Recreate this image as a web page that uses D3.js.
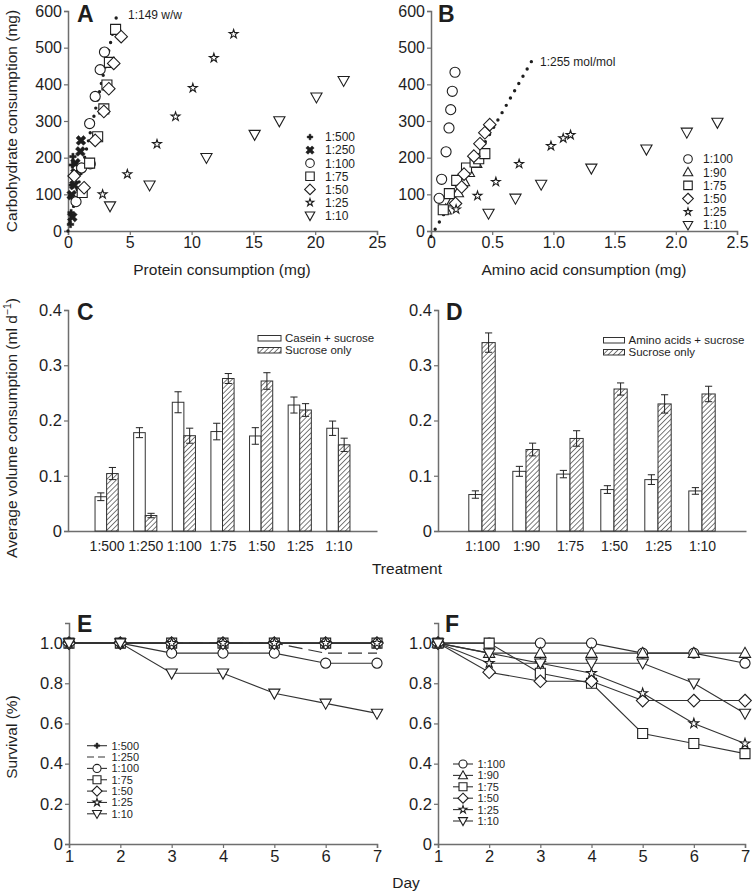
<!DOCTYPE html>
<html><head><meta charset="utf-8">
<script src="https://cdn.jsdelivr.net/npm/d3@7"></script>
<style>
body{margin:0;background:#fff}
svg{display:block}
text{font-family:"Liberation Sans",Arial,Helvetica,sans-serif;fill:#1e1e1e}
</style>
</head><body>
<svg id="fig" width="755" height="894"></svg>
<script>
// ---------- Panel A: carbohydrate vs protein consumption (mg) ----------
const A_500 = [[0.2,18],[0.25,50],[0.3,95],[0.35,125],[0.3,150],[0.35,180],[0.4,203]];
const A_250 = [[0.35,38],[0.3,98],[0.5,125],[0.6,158],[0.6,185],[1.0,217],[1.05,247]];
const A_100 = [[0.65,80],[1.1,172],[1.8,183],[1.75,293],[2.2,367],[2.6,440],[2.95,488]];
const A_75  = [[1.15,105],[1.75,185],[2.4,257],[2.9,333],[3.15,398],[3.35,460],[3.85,550]];
const A_50  = [[1.3,118],[0.5,150],[2.2,247],[2.9,326],[3.3,388],[3.7,457],[4.3,530]];
const A_25  = [[2.8,100],[4.8,155],[7.2,237],[8.7,312],[10.1,390],[11.8,472],[13.4,537]];
const A_10  = [[3.4,68],[6.6,125],[11.2,200],[15.1,263],[17.1,300],[20.1,365],[22.3,410]];
const A_line = [[0,0],[3.95,589]];
const A_labels = ["1:500","1:250","1:100","1:75","1:50","1:25","1:10"];
const A_xticks = [0,5,10,15,20,25];
const AB_yticks = [0,100,200,300,400,500,600];

// ---------- Panel B: carbohydrate vs amino acid consumption (mg) ----------
const B_100 = [[0.066,89],[0.087,141],[0.123,216],[0.147,281],[0.161,331],[0.174,381],[0.196,433]];
const B_90  = [[0.12,58],[0.17,80],[0.22,105],[0.27,135],[0.31,160],[0.37,185],[0.42,210]];
const B_75  = [[0.1,58],[0.15,102],[0.21,138],[0.29,172],[0.36,188],[0.39,197],[0.44,211]];
const B_50  = [[0.2,75],[0.25,120],[0.27,155],[0.35,204],[0.4,238],[0.44,268],[0.48,290]];
const B_25  = [[0.205,59],[0.38,96],[0.53,134],[0.72,183],[0.98,232],[1.08,253],[1.14,262]];
const B_10  = [[0.47,48],[0.69,89],[0.9,127],[1.31,171],[1.76,223],[2.09,269],[2.34,296]];
const B_line = [[0,-15],[0.82,462]];
const B_labels = ["1:100","1:90","1:75","1:50","1:25","1:10"];
const B_xticks = [0,0.5,1.0,1.5,2.0,2.5];

// ---------- Panel C: volume consumption, casein ----------
const C_cats = ["1:500","1:250","1:100","1:75","1:50","1:25","1:10"];
const C_mix = [0.062,0.178,0.233,0.180,0.172,0.228,0.186];
const C_mixErr = [0.007,0.009,0.019,0.015,0.015,0.0145,0.013];
const C_suc = [0.104,0.028,0.1725,0.276,0.2715,0.219,0.156];
const C_sucErr = [0.011,0.004,0.0136,0.009,0.015,0.0115,0.012];

// ---------- Panel D: volume consumption, amino acids ----------
const D_cats = ["1:100","1:90","1:75","1:50","1:25","1:10"];
const D_mix = [0.066,0.108,0.103,0.075,0.093,0.0725];
const D_mixErr = [0.0067,0.009,0.0067,0.007,0.0088,0.006];
const D_suc = [0.341,0.1475,0.1675,0.257,0.230,0.248];
const D_sucErr = [0.0175,0.0115,0.014,0.011,0.0166,0.014];
const CD_yticks = [0,0.1,0.2,0.3,0.4];

// ---------- Panel E / F: survival ----------
const days = [1,2,3,4,5,6,7];
const E_500 = [1,1,1,1,1,1,1];
const E_250 = [1,1,1,1,1,0.95,0.95];
const E_100 = [1,1,0.95,0.95,0.95,0.9,0.9];
const E_75  = [1,1,1,1,1,1,1];
const E_50  = [1,1,1,1,1,1,1];
const E_25  = [1,1,1,1,1,1,1];
const E_10  = [1,1,0.85,0.85,0.75,0.7,0.65];
const F_100 = [1,1,1,1,0.95,0.95,0.9];
const F_90  = [1,0.95,0.95,0.95,0.95,0.95,0.95];
const F_75  = [1,1,0.85,0.8,0.55,0.5,0.45];
const F_50  = [1,0.855,0.81,0.81,0.714,0.714,0.714];
const F_25  = [1,0.9,0.9,0.85,0.75,0.6,0.5];
const F_10  = [1,0.95,0.9,0.9,0.9,0.8,0.65];
const EF_yticks = [0,0.2,0.4,0.6,0.8,1.0];

// ================= drawing =================
const svg = d3.select("#fig");
const FONT = '"Liberation Sans",Arial,Helvetica,sans-serif';
const AXC = "#6e6e6e", INK = "#1e1e1e";

// hatch pattern
const defs = svg.append("defs");
const pat = defs.append("pattern").attr("id","hatch").attr("patternUnits","userSpaceOnUse")
  .attr("width",3.6).attr("height",3.6).attr("patternTransform","rotate(45)");
pat.append("rect").attr("width",3.6).attr("height",3.6).attr("fill","#fff");
pat.append("line").attr("x1",0).attr("y1",0).attr("x2",0).attr("y2",3.6).attr("stroke","#333").attr("stroke-width",1.3);

function symPath(t, k){
  k = k || 1;
  switch(t){
    case "circle": return d3.symbol(d3.symbolCircle, 80*k*k)();
    case "square": { const h=5*k; return `M${-h},${-h}H${h}V${h}H${-h}Z`; }
    case "diamond": { const h=6.3*k; return `M0,${-h}L${h},0L0,${h}L${-h},0Z`; }
    case "star": return d3.symbol(d3.symbolStar, 30*k*k)();
    case "tridown": { const w=5.6*k, h=4.2*k; return `M${-w},${-h}L${w},${-h}L0,${h+1.6*k}Z`; }
    case "triup": { const w=5.6*k, h=4.2*k; return `M${-w},${h}L${w},${h}L0,${-h-1.6*k}Z`; }
    case "plus": return d3.symbol(d3.symbolCross, 24*k*k)();
    case "x": return d3.symbol(d3.symbolCross, 60*k*k)();
  }
}
function drawSym(g, t, x, y, k){
  const p = g.append("path").attr("d", symPath(t,k)).attr("stroke", INK);
  if(t==="plus"||t==="x"){ p.attr("fill",INK).attr("stroke-width",0.5); }
  else { p.attr("fill","#fff").attr("stroke-width",1.1); }
  p.attr("transform", `translate(${x},${y})` + (t==="x" ? " rotate(45)" : ""));
  return p;
}
function styleAxis(g, size){
  g.attr("font-family", FONT).attr("font-size", size||16);
  g.select(".domain").attr("stroke", AXC).attr("stroke-width", 1.5);
  g.selectAll(".tick line").attr("stroke", AXC).attr("stroke-width", 1.2);
  g.selectAll(".tick text").attr("fill", INK);
}
const fmt1 = d => d===0 ? "0" : d.toFixed(1);

function panelLetter(t, x, y){
  svg.append("text").attr("x",x).attr("y",y).attr("font-size",23).attr("font-weight","bold").text(t);
}
function txt(t, x, y, size, anchor){
  return svg.append("text").attr("x",x).attr("y",y).attr("font-size",size).attr("text-anchor",anchor||"start").text(t);
}
function vtitle(t, x, y){
  return svg.append("text").attr("transform",`translate(${x},${y}) rotate(-90)`).attr("text-anchor","middle").attr("font-size",15.5).text(t);
}

// ---------- scatter panels ----------
function scatterPanel(opt){
  const x = d3.scaleLinear().domain(opt.xdom).range(opt.xr);
  const y = d3.scaleLinear().domain([0,600]).range([231,11]);
  const g = svg.append("g");
  g.append("g").attr("transform",`translate(0,231)`).call(d3.axisBottom(x).tickValues(opt.xticks).tickFormat(opt.xfmt).tickSize(4).tickPadding(2)).call(a=>styleAxis(a,16));
  g.append("g").attr("transform",`translate(${opt.xr[0]},0)`).call(d3.axisLeft(y).tickValues(AB_yticks).tickSize(4).tickPadding(2)).call(a=>styleAxis(a,16));
  // dotted ratio line
  g.append("path").datum(opt.line).attr("d", d3.line().x(d=>x(d[0])).y(d=>y(d[1])))
    .attr("fill","none").attr("stroke",INK).attr("stroke-width",3.4).attr("stroke-linecap","round").attr("stroke-dasharray","0,8.4");
  opt.series.forEach(s=>{
    s.data.forEach(d=>drawSym(g, s.sym, x(d[0]), y(d[1]), s.k||1));
  });
  // legend
  opt.series.forEach((s,i)=>{
    const yy = opt.legY + i*opt.legDy;
    drawSym(g, s.sym, opt.legX, yy, 0.85*(s.k||1));
    g.append("text").attr("x",opt.legX+15).attr("y",yy+4.3).attr("font-size",12).text(s.label);
  });
}
scatterPanel({
  xdom:[0,25], xr:[68,377], xticks:A_xticks, xfmt:d3.format("d"), line:A_line,
  legX:310, legY:137, legDy:13.1,
  series:[
    {label:A_labels[0], sym:"plus", data:A_500},
    {label:A_labels[1], sym:"x", data:A_250},
    {label:A_labels[2], sym:"circle", data:A_100},
    {label:A_labels[3], sym:"square", data:A_75},
    {label:A_labels[4], sym:"diamond", data:A_50},
    {label:A_labels[5], sym:"star", data:A_25, k:0.9},
    {label:A_labels[6], sym:"tridown", data:A_10}
  ]
});
scatterPanel({
  xdom:[0,2.5], xr:[431,737], xticks:B_xticks, xfmt:fmt1, line:B_line,
  legX:688, legY:159, legDy:13.2,
  series:[
    {label:B_labels[0], sym:"circle", data:B_100},
    {label:B_labels[1], sym:"triup", data:B_90},
    {label:B_labels[2], sym:"square", data:B_75},
    {label:B_labels[3], sym:"diamond", data:B_50},
    {label:B_labels[4], sym:"star", data:B_25, k:0.9},
    {label:B_labels[5], sym:"tridown", data:B_10}
  ]
});
panelLetter("A", 77, 22);
panelLetter("B", 438, 22);
txt("1:149 w/w", 128, 19, 12);
txt("1:255 mol/mol", 540, 66, 12);
vtitle("Carbohydrate consumption (mg)", 17, 121);
txt("Protein consumption (mg)", 222, 275, 15.5, "middle");
txt("Amino acid consumption (mg)", 584, 275, 15.5, "middle");

// ---------- bar panels ----------
function barPanel(opt){
  const x = d3.scalePoint().domain(opt.cats).range(opt.xr).padding(1);
  const y = d3.scaleLinear().domain([0,0.4]).range([531,310]);
  const bw = x.step()*0.3;
  const g = svg.append("g");
  const xa = g.append("g").attr("transform","translate(0,531)").call(d3.axisBottom(x).tickSize(0).tickPadding(10));
  styleAxis(xa, 14);
  g.append("g").attr("transform",`translate(${opt.xr[0]},0)`).call(d3.axisLeft(y).tickValues(CD_yticks).tickFormat(fmt1).tickSize(4).tickPadding(2)).call(a=>styleAxis(a,16.5));
  const groups = [
    {vals:opt.mix, errs:opt.mixErr, off:-bw, fill:"#fff"},
    {vals:opt.suc, errs:opt.sucErr, off:0, fill:"url(#hatch)"}
  ];
  groups.forEach(gr=>{
    opt.cats.forEach((c,i)=>{
      const x0 = x(c)+gr.off, v = gr.vals[i], e = gr.errs[i];
      g.append("rect").attr("x",x0).attr("y",y(v)).attr("width",bw).attr("height",y(0)-y(v))
        .attr("fill",gr.fill).attr("stroke","#333").attr("stroke-width",1);
      const cx = x0+bw/2, cw = 3.6;
      g.append("path").attr("d",`M${cx},${y(v+e)}V${y(v-e)}M${cx-cw},${y(v+e)}H${cx+cw}M${cx-cw},${y(v-e)}H${cx+cw}`)
        .attr("stroke","#222").attr("stroke-width",1).attr("fill","none");
    });
  });
  // legend
  const L = opt.leg;
  g.append("rect").attr("x",L.x).attr("y",L.y).attr("width",L.w).attr("height",5.5).attr("fill","#fff").attr("stroke","#333").attr("stroke-width",1);
  g.append("rect").attr("x",L.x).attr("y",L.y+12).attr("width",L.w).attr("height",5.5).attr("fill","url(#hatch)").attr("stroke","#333").attr("stroke-width",1);
  g.append("text").attr("x",L.x+L.w+4).attr("y",L.y+6.5).attr("font-size",11.5).text(L.t1);
  g.append("text").attr("x",L.x+L.w+4).attr("y",L.y+18.5).attr("font-size",11.5).text(L.t2);
}
barPanel({cats:C_cats, xr:[68,377], mix:C_mix, mixErr:C_mixErr, suc:C_suc, sucErr:C_sucErr,
  leg:{x:258, y:335.5, w:23, t1:"Casein + sucrose", t2:"Sucrose only"}});
barPanel({cats:D_cats, xr:[438,746], mix:D_mix, mixErr:D_mixErr, suc:D_suc, sucErr:D_sucErr,
  leg:{x:603.5, y:337.5, w:21, t1:"Amino acids + sucrose", t2:"Sucrose only"}});
panelLetter("C", 77, 320);
panelLetter("D", 446, 320);
const vt = svg.append("text").attr("transform","translate(17,428) rotate(-90)").attr("text-anchor","middle").attr("font-size",15.5);
vt.append("tspan").text("Average volume consumption (ml d");
vt.append("tspan").attr("dy",-6).attr("font-size",10.5).text("\u22121");
vt.append("tspan").attr("dy",6).text(")");
txt("Treatment", 407, 574, 15.5, "middle");

// ---------- survival panels ----------
function survPanel(opt){
  const x = d3.scaleLinear().domain([1,7]).range(opt.xr);
  const y = d3.scaleLinear().domain([0,1.1]).range([844,623]);
  const g = svg.append("g");
  g.append("g").attr("transform","translate(0,844)").call(d3.axisBottom(x).tickValues(days).tickFormat(d3.format("d")).tickSize(4).tickPadding(2)).call(a=>styleAxis(a,16.5));
  g.append("g").attr("transform",`translate(${opt.xr[0]},0)`).call(d3.axisLeft(y).tickValues(EF_yticks).tickFormat(fmt1).tickSize(4).tickPadding(2)).call(a=>styleAxis(a,16.5));
  const line = d3.line().x((d,i)=>x(days[i])).y(d=>y(d));
  opt.series.forEach(s=>{
    g.append("path").datum(s.data).attr("d",line).attr("fill","none").attr("stroke","#333").attr("stroke-width",1.1)
      .attr("stroke-dasharray", s.dash ? "14,6" : null);
  });
  opt.series.forEach(s=>{
    if(s.sym) s.data.forEach((d,i)=>drawSym(g, s.sym, x(days[i]), y(d), s.k||1));
  });
  opt.series.forEach((s,i)=>{
    const yy = opt.legY + i*opt.legDy;
    g.append("line").attr("x1",opt.legX).attr("x2",opt.legX+20).attr("y1",yy).attr("y2",yy)
      .attr("stroke","#333").attr("stroke-width",1.1).attr("stroke-dasharray", s.dash ? "7,4" : null);
    if(s.sym) drawSym(g, s.sym, opt.legX+10, yy, 0.8*(s.k||1));
    g.append("text").attr("x",opt.legX+24.5).attr("y",yy+4).attr("font-size",11).text(s.label);
  });
}
survPanel({xr:[69,377], legX:87, legY:745.7, legDy:11.35, series:[
  {label:A_labels[0], sym:"plus", data:E_500},
  {label:A_labels[1], sym:null, dash:true, data:E_250},
  {label:A_labels[2], sym:"circle", data:E_100},
  {label:A_labels[3], sym:"square", data:E_75},
  {label:A_labels[4], sym:"diamond", data:E_50},
  {label:A_labels[5], sym:"star", data:E_25},
  {label:A_labels[6], sym:"tridown", data:E_10}
]});
survPanel({xr:[438,745], legX:453, legY:764, legDy:11.4, series:[
  {label:B_labels[0], sym:"circle", data:F_100},
  {label:B_labels[1], sym:"triup", data:F_90},
  {label:B_labels[2], sym:"square", data:F_75},
  {label:B_labels[3], sym:"diamond", data:F_50},
  {label:B_labels[4], sym:"star", data:F_25},
  {label:B_labels[5], sym:"tridown", data:F_10}
]});
panelLetter("E", 77, 632);
panelLetter("F", 445, 632);
vtitle("Survival (%)", 17, 737);
txt("Day", 406, 888, 15.5, "middle");
</script>
</body></html>
